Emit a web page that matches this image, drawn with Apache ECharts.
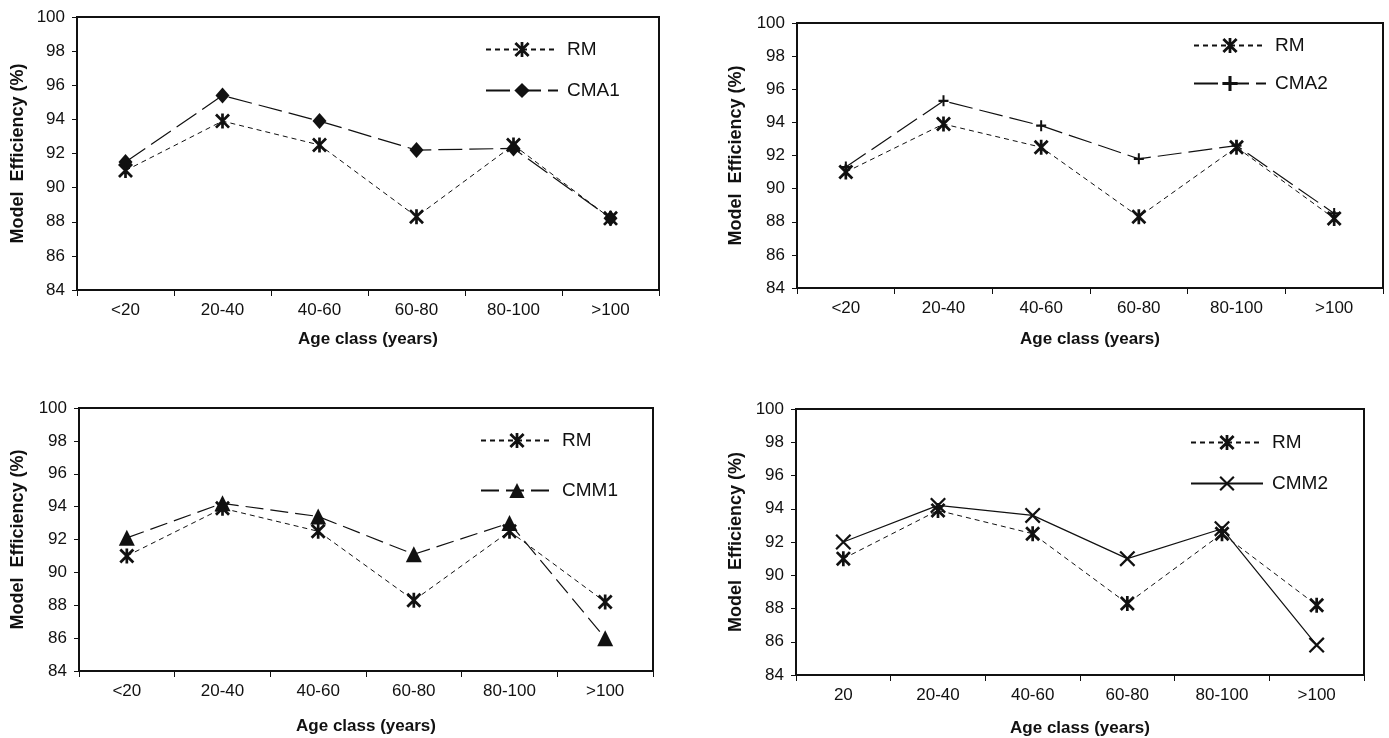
<!DOCTYPE html>
<html>
<head>
<meta charset="utf-8">
<script src="https://cdn.jsdelivr.net/npm/echarts@6/dist/echarts.min.js"></script>
<style>
  html, body { margin: 0; padding: 0; background: #fff; }
  #main { width: 1389px; height: 738px; }
</style>
</head>
<body>
<div id="main"></div>
<script>
// age classes (the bottom-right panel labels the first class "20")
const ageClasses = ['<20', '20-40', '40-60', '60-80', '80-100', '>100']
const ageClassesAlt = ['20', '20-40', '40-60', '60-80', '80-100', '>100']

// model efficiency (%)
const rm = [91.0, 93.9, 92.5, 88.3, 92.5, 88.2]
const cma1 = [91.5, 95.4, 93.9, 92.2, 92.3, 88.2]
const cma2 = [91.3, 95.3, 93.8, 91.8, 92.6, 88.5]
const cmm1 = [92.1, 94.2, 93.4, 91.1, 93.0, 86.0]
const cmm2 = [92.0, 94.2, 93.6, 91.0, 92.8, 85.8]

const yTicks = [84, 86, 88, 90, 92, 94, 96, 98, 100]

// marker shapes
const ASTER = 'path://M41,0L59,0L59,100L41,100ZM0,13L13,0L100,87L87,100ZM87,0L100,13L13,100L0,87Z'
const CROSS = 'path://M0,10L10,0L100,90L90,100ZM90,0L100,10L10,100L0,90Z'
const PLUS = 'path://M40,0L60,0L60,100L40,100ZM0,40L100,40L100,60L0,60Z'

const INK = '#111'
const FONT = 'Liberation Sans, Arial, sans-serif'

// plot boxes and legend spots, one per panel
const panels = [
  {grid: {left: 77, top: 17, width: 582, height: 273}, cats: ageClasses, other: 'CMA1', data: cma1,
   symbol: 'diamond', size: [14, 16], dash: [24, 7], legend: {left: 485, top: 40, itemGap: 22}, yGap: 50, xGap: 41},
  {grid: {left: 797, top: 23, width: 586, height: 265}, cats: ageClasses, other: 'CMA2', data: cma2,
   symbol: PLUS, size: [10, 11], dash: [24, 7], legend: {left: 1193, top: 36, itemGap: 19}, yGap: 52, xGap: 43},
  {grid: {left: 79, top: 408, width: 574, height: 263}, cats: ageClasses, other: 'CMM1', data: cmm1,
   symbol: 'triangle', size: [16, 16], dash: [18, 7], legend: {left: 480, top: 431, itemGap: 31}, yGap: 52, xGap: 47},
  {grid: {left: 796, top: 409, width: 568, height: 266}, cats: ageClassesAlt, other: 'CMM2', data: cmm2,
   symbol: CROSS, size: [16, 16], dash: 'solid', legend: {left: 1190, top: 433, itemGap: 22}, yGap: 51, xGap: 45}
]

const grid = [], xAxis = [], yAxis = [], series = [], legend = []

panels.forEach((p, i) => {
  grid.push(Object.assign({show: true, borderColor: INK, borderWidth: 2, backgroundColor: '#fff'}, p.grid))
  xAxis.push({
    type: 'category', gridIndex: i, data: p.cats, boundaryGap: true,
    name: 'Age class (years)', nameLocation: 'middle', nameGap: p.xGap,
    nameTextStyle: {fontFamily: FONT, fontSize: 17, fontWeight: 'bold', color: INK},
    axisLine: {lineStyle: {color: INK, width: 2}},
    axisTick: {show: true, length: 6, lineStyle: {color: INK, width: 1}},
    axisLabel: {fontFamily: FONT, fontSize: 17, color: INK, margin: 12},
    splitLine: {show: false}
  })
  yAxis.push({
    type: 'value', gridIndex: i, min: yTicks[0], max: yTicks[yTicks.length - 1], interval: 2,
    name: 'Model  Efficiency (%)', nameLocation: 'middle', nameGap: p.yGap,
    nameTextStyle: {fontFamily: FONT, fontSize: 18, fontWeight: 'bold', color: INK},
    axisLine: {show: true, lineStyle: {color: INK, width: 2}},
    axisTick: {show: true, length: 5, lineStyle: {color: INK, width: 1}},
    axisLabel: {fontFamily: FONT, fontSize: 17, color: INK, margin: 12},
    splitLine: {show: false}
  })
  series.push({
    name: 'RM', type: 'line', xAxisIndex: i, yAxisIndex: i, data: rm,
    symbol: ASTER, symbolSize: [15, 15],
    itemStyle: {color: INK},
    lineStyle: {color: INK, width: 1, type: [5, 4]},
    z: 3
  })
  series.push({
    name: p.other, type: 'line', xAxisIndex: i, yAxisIndex: i, data: p.data,
    symbol: p.symbol, symbolSize: p.size,
    itemStyle: {color: INK},
    lineStyle: {color: INK, width: 1.2, type: p.dash},
    z: 2
  })
  legend.push(Object.assign({
    orient: 'vertical', padding: 0, selectedMode: false,
    itemWidth: 72, itemHeight: 19,
    data: ['RM', p.other],
    textStyle: {fontFamily: FONT, fontSize: 19, color: INK, padding: [0, 0, 0, 4]}
  }, p.legend))
})

const chart = echarts.init(document.getElementById('main'))
chart.setOption({
  animation: false,
  backgroundColor: '#fff',
  grid, xAxis, yAxis, series, legend
})
</script>
</body>
</html>
